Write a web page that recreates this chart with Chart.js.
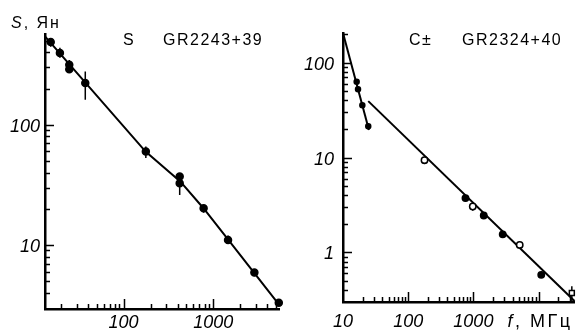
<!DOCTYPE html>
<html>
<head>
<meta charset="utf-8">
<script src="https://cdn.jsdelivr.net/npm/chart.js@4.4.0/dist/chart.umd.min.js"></script>
<style>
    html, body { margin: 0; padding: 0; background: #fff; }
    #wrap { position: relative; width: 580px; height: 330px; overflow: hidden; }
    canvas { position: absolute; top: 0; }
    #leftChart { left: 0; }
    #rightChart { left: 295px; }
</style>
</head>
<body>
<div id="wrap">
    <canvas id="leftChart" width="295" height="330"></canvas>
    <canvas id="rightChart" width="285" height="330"></canvas>
</div>
<script>
// GR2243+39 (S)
const leftFreq = [15.4, 19.5, 24.8, 24.8, 37.4, 177, 422, 422, 780, 1460, 2870, 5370];
const leftFlux = [489, 396, 316, 290, 223, 60, 37.1, 32.7, 20.2, 11, 5.9, 3.3];
const leftErrFreq = [15.4, 19.5, 24.8, 37.4, 177, 422, 780, 1460, 2870, 5370];
const leftErrLow = [447, 361, 278, 162, 53, 26.1, 18.5, 10.3, 5.5, 3.1];
const leftErrHigh = [525, 438, 347, 278, 66, 39.6, 21.5, 12, 6.3, 3.5];
// aproximación dibujada (ligeramente curvada en el original)
const leftFitFreq = [13.3, 177, 428, 773, 1472, 5460];
const leftFitFlux = [545, 59.6, 33.8, 20.3, 11, 3.16];

// GR2324+40 (C±)
const rightSteepFreq = [16.2, 17, 19.8, 24.4];
const rightSteepFlux = [63, 52.7, 35.7, 21.4];
const rightFilledFreq = [757, 1443, 2820, 11000];
const rightFilledFlux = [3.74, 2.45, 1.55, 0.58];
const rightOpenFreq = [178, 979, 5140];
const rightOpenFlux = [9.4, 3.05, 1.2];
const rightSquareFreq = [32400];
const rightSquareFlux = [0.374];
const rightErrFreq = [16.2, 17, 19.8, 24.4, 178, 757, 979, 1443, 2820, 5140, 11000, 32400];
const rightErrLow = [60, 50, 33.5, 19.8, 8.5, 3.45, 2.75, 2.3, 1.45, 1.13, 0.55, 0.30];
const rightErrHigh = [66, 55.5, 38, 23, 10, 4.0, 3.3, 2.6, 1.65, 1.27, 0.62, 0.44];
const rightFit1Freq = [10, 25];
const rightFit1Flux = [206, 19.5];
const rightFit2Freq = [24.4, 35600];
const rightFit2Flux = [39.4, 0.307];

// marcas de los ejes
const leftXMajor = [100, 1000];
const leftXMinor = [20, 30, 40, 50, 60, 70, 80, 90, 200, 300, 400, 500, 600, 700, 800, 900, 2000, 3000, 4000, 5000];
const leftXLabels = ['100', '1000'];
const leftYMajor = [10, 100];
const leftYMinor = [4, 5, 6, 7, 8, 9, 20, 30, 40, 50, 60, 70, 80, 90, 200, 300, 400, 500];
const leftYLabels = ['10', '100'];

const rightXMajor = [100, 1000, 10000];
const rightXMinor = [20, 30, 40, 50, 60, 70, 80, 90, 200, 300, 400, 500, 600, 700, 800, 900,
    2000, 3000, 4000, 5000, 6000, 7000, 8000, 9000, 20000, 30000];
const rightXLabelValues = [10, 100, 1000];
const rightXLabels = ['10', '100', '1000'];
const rightYMajor = [1, 10, 100];
const rightYMinor = [0.4, 0.5, 0.6, 0.7, 0.8, 0.9, 2, 3, 4, 5, 6, 7, 8, 9, 20, 30, 40, 50, 60, 70, 80, 90, 200];
const rightYLabels = ['1', '10', '100'];

const FONT = '"Liberation Sans", Arial, sans-serif';

function pts(xs, ys) {
    return xs.map((x, i) => ({ x: x, y: ys[i] }));
}

function errPts(xs, lo, hi) {
    const out = [];
    xs.forEach((x, i) => {
        out.push({ x: x, y: lo[i] }, { x: x, y: hi[i] }, { x: x, y: null });
    });
    return out;
}

function drawText(ctx, parts, x, y, spacing) {
    // parts: [[texto, fuente], ...]
    ctx.letterSpacing = spacing + 'px';
    let cx = x;
    parts.forEach(p => {
        ctx.font = p[1];
        ctx.fillText(p[0], cx, y);
        cx += ctx.measureText(p[0]).width;
    });
    ctx.letterSpacing = '0px';
}

// marcas hacia dentro, etiquetas y textos
const decorPlugin = {
    id: 'decor',
    afterDraw(chart, args, o) {
        const ctx = chart.ctx;
        const sx = chart.scales.x, sy = chart.scales.y;
        const a = chart.chartArea;
        ctx.save();
        ctx.strokeStyle = '#000';
        ctx.lineWidth = 1.5;
        ctx.beginPath();
        const xTick = (v, len) => {
            const px = Math.round(sx.getPixelForValue(v)) + 0.5;
            ctx.moveTo(px, a.bottom);
            ctx.lineTo(px, a.bottom - len);
        };
        const yTick = (v, len) => {
            const py = Math.round(sy.getPixelForValue(v)) + 0.5;
            ctx.moveTo(a.left, py);
            ctx.lineTo(a.left + len, py);
        };
        o.xMajor.forEach(v => xTick(v, 10));
        o.xMinor.forEach(v => xTick(v, 5));
        o.yMajor.forEach(v => yTick(v, 9));
        o.yMinor.forEach(v => yTick(v, 5));
        ctx.stroke();

        ctx.fillStyle = '#000';
        ctx.font = 'italic 18px ' + FONT;
        ctx.textBaseline = 'alphabetic';
        ctx.textAlign = 'center';
        o.xLabelValues.forEach((v, i) => {
            ctx.fillText(o.xLabels[i], sx.getPixelForValue(v), o.xLabelY);
        });
        ctx.textAlign = 'right';
        o.yMajor.forEach((v, i) => {
            ctx.fillText(o.yLabels[i], o.yLabelX, sy.getPixelForValue(v) + 7);
        });

        ctx.textAlign = 'left';
        o.texts.forEach(t => drawText(ctx, t.parts, t.x, t.y, t.spacing));
        if (o.unitX) {
            const px = sx.getPixelForValue(o.unitX) - 31;
            drawText(ctx, [['f', 'italic 18px ' + FONT], [', МГц', '18px ' + FONT]], px, o.xLabelY, 2.5);
        }
        ctx.restore();
    }
};

function makeChart(id, datasets, sc, decor) {
    const ctx = document.getElementById(id).getContext('2d');
    return new Chart(ctx, {
        type: 'scatter',
        data: { datasets: datasets },
        options: {
            responsive: false,
            animation: false,
            devicePixelRatio: 1,
            layout: { padding: { left: 0, top: sc.top, right: sc.right, bottom: 0 } },
            plugins: {
                legend: { display: false },
                tooltip: { enabled: false },
                decor: decor
            },
            scales: {
                x: {
                    type: 'logarithmic',
                    min: sc.xMin,
                    max: sc.xMax,
                    ticks: { display: false },
                    grid: { display: true, drawOnChartArea: false, drawTicks: false },
                    border: { display: true, color: '#000', width: 2.5 },
                    afterFit: s => { s.height = sc.xHeight; }
                },
                y: {
                    type: 'logarithmic',
                    min: sc.yMin,
                    max: sc.yMax,
                    ticks: { display: false },
                    grid: { display: true, drawOnChartArea: false, drawTicks: false },
                    border: { display: true, color: '#000', width: 2.5 },
                    afterFit: s => { s.width = sc.yWidth; }
                }
            }
        },
        plugins: [decorPlugin]
    });
}

function lineSet(data, width) {
    return {
        data: data, showLine: true, spanGaps: false, borderColor: '#000', borderWidth: width,
        pointRadius: 0, clip: false, order: 5
    };
}

function markerSet(data, style, radius, fill) {
    return {
        data: data, pointStyle: style, pointRadius: radius, backgroundColor: fill,
        borderColor: '#000', borderWidth: 1.5, clip: false, order: 1
    };
}

const titleFont = '16px ' + FONT;

makeChart('leftChart', [
    markerSet(pts(leftFreq, leftFlux), 'circle', 3.5, '#000'),
    lineSet(errPts(leftErrFreq, leftErrLow, leftErrHigh), 1.5),
    lineSet(pts(leftFitFreq, leftFitFlux), 2)
], {
    xMin: 13.3, xMax: 5400, yMin: 2.93, yMax: 570,
    top: 34, right: 16, xHeight: 21, yWidth: 45
}, {
    xMajor: leftXMajor, xMinor: leftXMinor, yMajor: leftYMajor, yMinor: leftYMinor,
    xLabelValues: leftXMajor, xLabels: leftXLabels, yLabels: leftYLabels,
    xLabelY: 328, yLabelX: 40,
    texts: [
        { parts: [['S', 'italic ' + titleFont], [', Ян', titleFont]], x: 11, y: 28, spacing: 2 },
        { parts: [['S', titleFont]], x: 123, y: 45, spacing: 1.5 },
        { parts: [['GR2243+39', titleFont]], x: 163, y: 45, spacing: 1.5 }
    ]
});

makeChart('rightChart', [
    markerSet(pts(rightSquareFreq, rightSquareFlux), 'rect', 3.5, '#fff'),
    markerSet(pts(rightOpenFreq, rightOpenFlux), 'circle', 3.2, '#fff'),
    markerSet(pts(rightFilledFreq, rightFilledFlux), 'circle', 3.2, '#000'),
    markerSet(pts(rightSteepFreq, rightSteepFlux), 'circle', 2.5, '#000'),
    lineSet(errPts(rightErrFreq, rightErrLow, rightErrHigh), 1.5),
    lineSet(pts(rightFit1Freq, rightFit1Flux), 2),
    lineSet(pts(rightFit2Freq, rightFit2Flux), 2)
], {
    xMin: 10, xMax: 35600, yMin: 0.306, yMax: 206,
    top: 33, right: 4, xHeight: 28, yWidth: 48
}, {
    xMajor: rightXMajor, xMinor: rightXMinor, yMajor: rightYMajor, yMinor: rightYMinor,
    xLabelValues: rightXLabelValues, xLabels: rightXLabels, yLabels: rightYLabels,
    xLabelY: 327, yLabelX: 39, unitX: 10000,
    texts: [
        { parts: [['C±', titleFont]], x: 114, y: 45, spacing: 1.5 },
        { parts: [['GR2324+40', titleFont]], x: 167, y: 45, spacing: 1.5 }
    ]
});
</script>
</body>
</html>
